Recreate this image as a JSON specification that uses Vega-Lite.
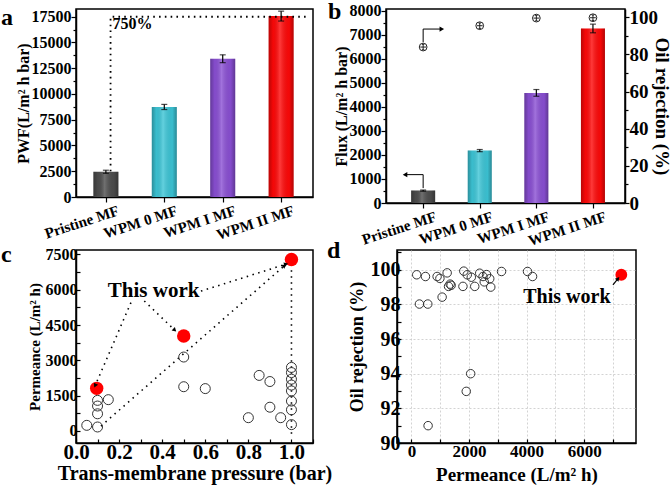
{
  "$schema": "https://vega.github.io/schema/vega-lite/v6.json",
  "padding": {"left": 0, "top": -2, "right": 0, "bottom": 0},
  "background": "white",
  "spacing": -11,
  "datasets": {
    "pwf": [
      {"m": "Pristine MF", "pos": 1, "val": 2450, "err": 150},
      {"m": "WPM 0 MF", "pos": 2, "val": 8740, "err": 250},
      {"m": "WPM I MF", "pos": 3, "val": 13420, "err": 380},
      {"m": "WPM II MF", "pos": 4, "val": 17560, "err": 480}
    ],
    "a_line": [
      {"pos": 1.08, "val": 2500, "o": 1},
      {"pos": 1.08, "val": 17500, "o": 2},
      {"pos": 4.46, "val": 17500, "o": 3}
    ],
    "flux": [
      {"m": "Pristine MF", "pos": 1, "val": 515, "err": 25},
      {"m": "WPM 0 MF", "pos": 2, "val": 2180, "err": 45},
      {"m": "WPM I MF", "pos": 3, "val": 4580, "err": 140},
      {"m": "WPM II MF", "pos": 4, "val": 7260, "err": 180}
    ],
    "flux_arrow": [
      {"pos": 1, "val": 620, "o": 1},
      {"pos": 1, "val": 1180, "o": 2},
      {"pos": 0.68, "val": 1180, "o": 3}
    ],
    "rej": [
      {"pos": 1, "val": 84, "err": 1.2},
      {"pos": 2, "val": 95.5, "err": 1.2},
      {"pos": 3, "val": 99.6, "err": 1},
      {"pos": 4, "val": 99.8, "err": 1}
    ],
    "rej_arrow": [
      {"pos": 1, "val": 86.6, "o": 1},
      {"pos": 1, "val": 93.7, "o": 2},
      {"pos": 1.33, "val": 93.7, "o": 3}
    ],
    "c_lit": [
      {"p": 0.05, "perm": 240}, {"p": 0.1, "perm": 170}, {"p": 0.1, "perm": 730},
      {"p": 0.1, "perm": 1060}, {"p": 0.1, "perm": 1300}, {"p": 0.15, "perm": 1330},
      {"p": 0.5, "perm": 3140}, {"p": 0.5, "perm": 1880}, {"p": 0.6, "perm": 1800},
      {"p": 0.8, "perm": 565}, {"p": 0.85, "perm": 2360}, {"p": 0.9, "perm": 2100},
      {"p": 0.9, "perm": 1010}, {"p": 0.95, "perm": 565}, {"p": 1.0, "perm": 2700},
      {"p": 1.0, "perm": 2480}, {"p": 1.0, "perm": 2200}, {"p": 1.0, "perm": 1950},
      {"p": 1.0, "perm": 1700}, {"p": 1.0, "perm": 1270}, {"p": 1.0, "perm": 900},
      {"p": 1.0, "perm": 270}
    ],
    "c_ours": [
      {"p": 0.096, "perm": 1810}, {"p": 0.5, "perm": 4030}, {"p": 1.0, "perm": 7280}
    ],
    "c_lines": [
      {"s": 1, "o": 1, "p": 0.255, "perm": 5450}, {"s": 1, "o": 2, "p": 0.09, "perm": 1950},
      {"s": 2, "o": 1, "p": 0.317, "perm": 5520}, {"s": 2, "o": 2, "p": 0.456, "perm": 4300},
      {"s": 3, "o": 1, "p": 0.58, "perm": 5940}, {"s": 3, "o": 2, "p": 0.972, "perm": 7075},
      {"s": 4, "o": 1, "p": 0.116, "perm": 210}, {"s": 4, "o": 2, "p": 0.965, "perm": 7000},
      {"s": 5, "o": 1, "p": 1.0, "perm": 7080}, {"s": 5, "o": 2, "p": 1.0, "perm": -280}
    ],
    "d_lit": [
      {"perm": 185, "rej": 99.71}, {"perm": 488, "rej": 99.61}, {"perm": 893, "rej": 99.61},
      {"perm": 990, "rej": 99.5}, {"perm": 1242, "rej": 99.82}, {"perm": 1346, "rej": 99.17},
      {"perm": 1290, "rej": 99.04}, {"perm": 1067, "rej": 98.42}, {"perm": 279, "rej": 98.02},
      {"perm": 569, "rej": 98.02}, {"perm": 1820, "rej": 99.92}, {"perm": 1940, "rej": 99.71},
      {"perm": 2080, "rej": 99.57}, {"perm": 1790, "rej": 99.04}, {"perm": 2200, "rej": 99.04},
      {"perm": 2372, "rej": 99.8}, {"perm": 2487, "rej": 99.61}, {"perm": 2610, "rej": 99.72},
      {"perm": 2720, "rej": 99.48}, {"perm": 2530, "rej": 99.3}, {"perm": 2756, "rej": 99.0},
      {"perm": 3130, "rej": 99.9}, {"perm": 4033, "rej": 99.9}, {"perm": 4207, "rej": 99.61},
      {"perm": 1380, "rej": 99.1}, {"perm": 2058, "rej": 94.0}, {"perm": 1905, "rej": 92.98},
      {"perm": 580, "rej": 91.0}
    ],
    "d_ours": [{"perm": 7290, "rej": 99.71}]
  },
  "vconcat": [
    {
      "spacing": 13,
      "hconcat": [
        {
          "width": 237,
          "height": 188,
          "title": {"text": "a", "dx": -75, "offset": -40, "baseline": "alphabetic"},
          "encoding": {
            "x": {"field": "pos", "type": "quantitative",
              "scale": {"domain": [0.574, 4.46], "nice": false, "zero": false},
              "axis": {"values": [1, 2, 3, 4], "labelExpr": "['','Pristine MF','WPM 0 MF','WPM I MF','WPM II MF'][datum.value]",
                "labelAngle": -18, "labelAlign": "right", "labelBaseline": "top", "labelOffset": 10, "labelFontSize": 15, "title": null, "tickSize": 5, "labelPadding": 1}},
            "y": {"field": "val", "type": "quantitative",
              "scale": {"domain": [0, 18250], "nice": false},
              "axis": {"values": [0, 1250, 2500, 3750, 5000, 6250, 7500, 8750, 10000, 11250, 12500, 13750, 15000, 16250, 17500],
                "format": "d", "labelExpr": "datum.value % 2500 ? '' : datum.label",
                "tickSize": {"condition": {"test": "datum.value % 2500", "value": 3}, "value": 5},
                "labelPadding": 0,
                "labelFontSize": 16, "title": "PWF(L/m² h bar)", "titleFontSize": 16, "titlePadding": 0}}
          },
          "layer": [
            {"data": {"name": "pwf"}, "mark": {"type": "bar", "width": 25, "orient": "vertical"},
              "encoding": {"color": {"field": "m", "type": "nominal", "legend": null,
                "scale": {"domain": ["Pristine MF", "WPM 0 MF", "WPM I MF", "WPM II MF"], "range": ["#4d4d4d", "#3cc5d6", "#8a4fd4", "#ff0808"]}}}},
            {"data": {"name": "pwf"}, "mark": {"type": "bar", "width": 25, "orient": "vertical",
              "color": {"gradient": "linear", "x1": 0, "x2": 1, "y1": 0, "y2": 0, "stops": [
                {"offset": 0, "color": "rgba(0,0,0,0.28)"}, {"offset": 0.18, "color": "rgba(0,0,0,0.04)"},
                {"offset": 0.45, "color": "rgba(255,255,255,0.2)"}, {"offset": 0.82, "color": "rgba(0,0,0,0.04)"},
                {"offset": 1, "color": "rgba(0,0,0,0.3)"}]}}},
            {"data": {"name": "pwf"}, "mark": {"type": "errorbar", "color": "black", "thickness": 1.2, "ticks": {"size": 6, "color": "black", "thickness": 1.2}},
              "encoding": {"yError": {"field": "err"}}},
            {"data": {"name": "a_line"}, "mark": {"type": "line", "color": "black", "strokeDash": [1.6, 4.2], "strokeWidth": 1.8},
              "encoding": {"order": {"field": "o", "type": "quantitative"}}},
            {"data": {"values": [{"pos": 1.115, "val": 16300, "t": "750%"}]},
              "mark": {"type": "text", "align": "left", "baseline": "alphabetic", "fontSize": 16, "fontWeight": "bold", "font": "Liberation Serif", "color": "black"},
              "encoding": {"text": {"field": "t"}}}
          ]
        },
        {
          "width": 239,
          "height": 194,
          "title": {"text": "b", "dx": -58, "offset": -40, "baseline": "alphabetic"},
          "encoding": {
            "x": {"field": "pos", "type": "quantitative",
              "scale": {"domain": [0.432, 4.478], "nice": false, "zero": false},
              "axis": {"values": [1, 2, 3, 4], "labelExpr": "['','Pristine MF','WPM 0 MF','WPM I MF','WPM II MF'][datum.value]",
                "labelAngle": -18, "labelAlign": "right", "labelBaseline": "top", "labelOffset": 10, "labelFontSize": 15, "title": null, "tickSize": 5, "labelPadding": 1}}
          },
          "resolve": {"scale": {"y": "independent"}},
          "layer": [
            {
              "encoding": {
                "y": {"field": "val", "type": "quantitative",
                  "scale": {"domain": [0, 8070], "nice": false},
                  "axis": {"orient": "left", "values": [0, 500, 1000, 1500, 2000, 2500, 3000, 3500, 4000, 4500, 5000, 5500, 6000, 6500, 7000, 7500, 8000],
                    "format": "d", "labelExpr": "datum.value % 1000 ? '' : datum.label",
                    "tickSize": {"condition": {"test": "datum.value % 1000", "value": 3}, "value": 5},
                    "labelPadding": 0,
                    "labelFontSize": 16, "title": "Flux (L/m² h bar)", "titleFontSize": 16, "titlePadding": 0}}
              },
              "layer": [
                {"data": {"name": "flux"}, "mark": {"type": "bar", "width": 24, "orient": "vertical"},
                  "encoding": {"color": {"field": "m", "type": "nominal", "legend": null,
                    "scale": {"domain": ["Pristine MF", "WPM 0 MF", "WPM I MF", "WPM II MF"], "range": ["#4d4d4d", "#3cc5d6", "#8a4fd4", "#ff0808"]}}}},
                {"data": {"name": "flux"}, "mark": {"type": "bar", "width": 24, "orient": "vertical",
                  "color": {"gradient": "linear", "x1": 0, "x2": 1, "y1": 0, "y2": 0, "stops": [
                    {"offset": 0, "color": "rgba(0,0,0,0.28)"}, {"offset": 0.18, "color": "rgba(0,0,0,0.04)"},
                    {"offset": 0.45, "color": "rgba(255,255,255,0.2)"}, {"offset": 0.82, "color": "rgba(0,0,0,0.04)"},
                    {"offset": 1, "color": "rgba(0,0,0,0.3)"}]}}},
                {"data": {"name": "flux"}, "mark": {"type": "errorbar", "color": "black", "thickness": 1.2, "ticks": {"size": 6, "color": "black", "thickness": 1.2}},
                  "encoding": {"yError": {"field": "err"}}},
                {"data": {"name": "flux_arrow"}, "mark": {"type": "line", "color": "black", "strokeWidth": 1},
                  "encoding": {"order": {"field": "o", "type": "quantitative"}}},
                {"data": {"values": [{"pos": 0.68, "val": 1180}]}, "mark": {"type": "point", "shape": "triangle-left", "filled": true, "size": 28, "color": "black", "opacity": 1}}
              ]
            },
            {
              "encoding": {
                "y": {"field": "val", "type": "quantitative",
                  "scale": {"domain": [0, 104.5], "nice": false},
                  "axis": {"orient": "right", "values": [0, 10, 20, 30, 40, 50, 60, 70, 80, 90, 100],
                    "labelExpr": "datum.value % 20 ? '' : datum.label",
                    "tickSize": {"condition": {"test": "datum.value % 20", "value": 3}, "value": 4},
                    "labelPadding": 0,
                    "labelFontSize": 19, "title": "Oil rejection (%)", "titleFontSize": 19, "titlePadding": -6, "titleAngle": 90}}
              },
              "layer": [
                {"data": {"name": "rej"}, "mark": {"type": "point", "shape": "circle", "filled": false, "size": 60, "color": "#222", "strokeWidth": 1, "opacity": 1}},
                {"data": {"name": "rej"}, "mark": {"type": "point", "shape": "M-0.75,0H0.75M0,-0.7V0.7M-0.3,-0.7H0.3M-0.3,0.7H0.3", "filled": false, "size": 60, "color": "#222", "strokeWidth": 1, "opacity": 1}},
                {"data": {"name": "rej_arrow"}, "mark": {"type": "line", "color": "black", "strokeWidth": 1},
                  "encoding": {"order": {"field": "o", "type": "quantitative"}}},
                {"data": {"values": [{"pos": 1.33, "val": 93.7}]}, "mark": {"type": "point", "shape": "triangle-right", "filled": true, "size": 28, "color": "black", "opacity": 1}}
              ]
            }
          ]
        }
      ]
    },
    {
      "spacing": -7,
      "hconcat": [
        {
          "width": 237,
          "height": 193,
          "title": {"text": "c", "dx": -75, "offset": -40, "baseline": "alphabetic"},
          "encoding": {
            "x": {"field": "p", "type": "quantitative",
              "scale": {"domain": [0, 1.1], "nice": false, "zero": false},
              "axis": {"values": [0, 0.1, 0.2, 0.3, 0.4, 0.5, 0.6, 0.7, 0.8, 0.9, 1.0, 1.1],
                "labelExpr": "round(datum.value*10) % 2 ? '' : format(datum.value, '.1f')",
                "tickSize": -4, "labelPadding": 2,
                "labelFontSize": 21, "title": "Trans-membrane pressure (bar)", "titleFontSize": 20, "titlePadding": 1}},
            "y": {"field": "perm", "type": "quantitative",
              "scale": {"domain": [-510, 7685], "nice": false, "zero": false},
              "axis": {"values": [0, 750, 1500, 2250, 3000, 3750, 4500, 5250, 6000, 6750, 7500],
                "format": "d", "labelExpr": "datum.value % 1500 ? '' : datum.label",
                "tickSize": -4, "labelPadding": 3,
                "labelFontSize": 16, "title": "Permeance (L/m² h)", "titleFontSize": 15, "titlePadding": 3}}
          },
          "layer": [
            {"data": {"name": "c_lines"}, "mark": {"type": "line", "color": "black", "strokeDash": [1.5, 4.5], "strokeWidth": 1.6},
              "encoding": {"detail": {"field": "s", "type": "nominal"}, "order": {"field": "o", "type": "quantitative"}}},
            {"data": {"name": "c_lit"}, "mark": {"type": "point", "shape": "circle", "filled": false, "size": 100, "color": "#333", "strokeWidth": 1, "opacity": 1}},
            {"data": {"name": "c_ours"}, "mark": {"type": "point", "shape": "circle", "filled": true, "size": 180, "color": "#ff0000", "opacity": 1}},
            {"data": {"values": [{"p": 0.09, "perm": 1950}]}, "mark": {"type": "point", "shape": "triangle", "angle": 204, "filled": true, "size": 22, "color": "black", "opacity": 1}},
            {"data": {"values": [{"p": 0.456, "perm": 4300}]}, "mark": {"type": "point", "shape": "triangle", "angle": 133, "filled": true, "size": 22, "color": "black", "opacity": 1}},
            {"data": {"values": [{"p": 0.972, "perm": 7075}]}, "mark": {"type": "point", "shape": "triangle", "angle": 73, "filled": true, "size": 22, "color": "black", "opacity": 1}},
            {"data": {"values": [{"p": 0.965, "perm": 7000}]}, "mark": {"type": "point", "shape": "triangle", "angle": 49, "filled": true, "size": 22, "color": "black", "opacity": 1}},
            {"data": {"values": [{"p": 0.36, "perm": 5690, "t": "This work"}]},
              "mark": {"type": "text", "align": "center", "baseline": "alphabetic", "fontSize": 21, "fontWeight": "bold", "font": "Liberation Serif", "color": "black"},
              "encoding": {"text": {"field": "t"}}}
          ]
        },
        {
          "width": 239,
          "height": 193,
          "title": {"text": "d", "dx": -70, "offset": -40, "baseline": "alphabetic"},
          "encoding": {
            "x": {"field": "perm", "type": "quantitative",
              "scale": {"domain": [-500, 7800], "nice": false, "zero": false},
              "axis": {"values": [0, 1000, 2000, 3000, 4000, 5000, 6000, 7000],
                "format": "d", "labelExpr": "datum.value % 2000 ? '' : datum.label",
                "tickSize": -4, "labelPadding": 4,
                "grid": true, "gridColor": "#c8c8c8", "gridDash": [2, 2], "gridWidth": 0.8,
                "labelFontSize": 17, "title": "Permeance (L/m² h)", "titleFontSize": 19, "titlePadding": 6}},
            "y": {"field": "rej", "type": "quantitative",
              "scale": {"domain": [90, 101.14], "nice": false, "zero": false},
              "axis": {"values": [90, 91, 92, 93, 94, 95, 96, 97, 98, 99, 100, 101],
                "labelExpr": "datum.value % 2 ? '' : datum.label",
                "tickSize": -4, "labelPadding": 1,
                "grid": true, "gridColor": "#c8c8c8", "gridDash": [2, 2], "gridWidth": 0.8,
                "gridOpacity": {"condition": {"test": "datum.value % 2", "value": 0}, "value": 1},
                "labelFontSize": 20, "title": "Oil rejection (%)", "titleFontSize": 18, "titlePadding": 4}}
          },
          "layer": [
            {"data": {"name": "d_lit"}, "mark": {"type": "point", "shape": "circle", "filled": false, "size": 72, "color": "#333", "strokeWidth": 1, "opacity": 1}},
            {"data": {"name": "d_ours"}, "mark": {"type": "point", "shape": "circle", "filled": true, "size": 140, "color": "#ff0000", "opacity": 1}},
            {"data": {"values": [{"perm": 7000, "rej": 99.13, "o": 1}, {"perm": 7160, "rej": 99.46, "o": 2}]},
              "mark": {"type": "line", "color": "black", "strokeWidth": 1.2},
              "encoding": {"order": {"field": "o", "type": "quantitative"}}},
            {"data": {"values": [{"perm": 7160, "rej": 99.46}]}, "mark": {"type": "point", "shape": "triangle", "angle": 40, "filled": true, "size": 22, "color": "black", "opacity": 1}},
            {"data": {"values": [{"perm": 5400, "rej": 98.07, "t": "This work"}]},
              "mark": {"type": "text", "align": "center", "baseline": "alphabetic", "fontSize": 20, "fontWeight": "bold", "font": "Liberation Serif", "color": "black"},
              "encoding": {"text": {"field": "t"}}}
          ]
        }
      ]
    }
  ],
  "config": {
    "font": "Liberation Serif",
    "view": {"stroke": "black", "strokeWidth": 1.5},
    "title": {"anchor": "start", "frame": "group", "fontSize": 24, "font": "Liberation Serif", "fontWeight": "bold", "color": "black"},
    "axis": {
      "labelFont": "Liberation Serif", "labelFontWeight": "bold", "labelColor": "black",
      "titleFont": "Liberation Serif", "titleFontWeight": "bold", "titleColor": "black",
      "domainColor": "black", "domainWidth": 1.5, "tickColor": "black", "tickWidth": 1.2,
      "grid": false, "labelFlush": false, "labelOverlap": false
    }
  }
}
